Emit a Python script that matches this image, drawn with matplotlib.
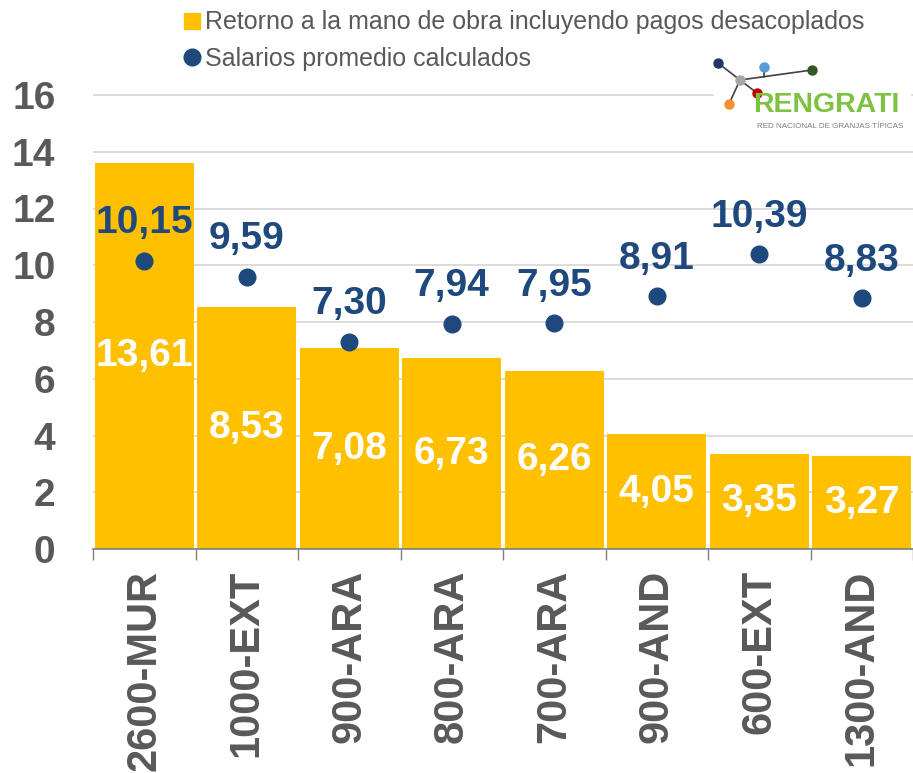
import matplotlib
matplotlib.use("Agg")
import matplotlib.pyplot as plt
import numpy as np
from matplotlib.lines import Line2D
from matplotlib.patches import Rectangle
from matplotlib import font_manager

plt.rcParams['font.family'] = ['Liberation Sans', 'DejaVu Sans']

categories = ["2600-MUR", "1000-EXT", "900-ARA", "800-ARA", "700-ARA", "900-AND", "600-EXT", "1300-AND"]
retorno = [13.61, 8.53, 7.08, 6.73, 6.26, 4.05, 3.35, 3.27]
salarios = [10.15, 9.59, 7.30, 7.94, 7.95, 8.91, 10.39, 8.83]
yticks = [0, 2, 4, 6, 8, 10, 12, 14, 16]

bar_color = '#FFC000'
dot_color = '#1F497D'
gray = '#595959'


def fmt(v):
    return f"{v:.2f}".replace('.', ',')


def main():
    fig = plt.figure(figsize=(9.13, 7.73), dpi=100)
    ax = fig.add_axes([93 / 913, 1 - 549 / 773, 820 / 913, (549 - 93) / 773])

    x = np.arange(len(categories))
    ax.bar(x, retorno, width=0.97, color=bar_color, zorder=2)
    ax.plot(x, salarios, 'o', color=dot_color, markersize=12, zorder=3)

    for xi, v in zip(x, retorno):
        ax.text(xi, v / 2, fmt(v), ha='center', va='center', color='white',
                fontsize=28, fontweight='bold', zorder=4)
    for xi, v in zip(x, salarios):
        ax.annotate(fmt(v), (xi, v), xytext=(0, 27), textcoords='offset points',
                    ha='center', va='center', color=dot_color, fontsize=28,
                    fontweight='bold', zorder=4)

    ax.set_xlim(-0.5, len(categories) - 0.5)
    ax.set_ylim(0, 16 * 456 / 454)
    ax.set_yticks(yticks)
    ax.set_yticklabels([str(t) for t in yticks])
    ax.yaxis.grid(True, color='#D9D9D9', linewidth=1.3, zorder=0)
    ax.set_axisbelow(True)

    ax.set_xticks(x)
    ax.set_xticklabels(categories, rotation=90, va='top', ha='center')
    ax.set_xticks(np.arange(len(categories) + 1) - 0.5, minor=True)
    ax.tick_params(axis='x', which='major', length=0, pad=15, labelsize=30,
                   labelcolor=gray)
    ax.tick_params(axis='x', which='minor', length=8, color='#7F7F7F', width=1)
    ax.tick_params(axis='y', length=0, pad=27, labelsize=28, labelcolor=gray)
    for lab in ax.get_xticklabels() + ax.get_yticklabels():
        lab.set_fontweight('bold')

    for s in ['left', 'right', 'top']:
        ax.spines[s].set_visible(False)
    ax.spines['bottom'].set_color('#7F7F7F')
    ax.spines['bottom'].set_linewidth(1.2)
    ax.spines['bottom'].set_zorder(5)

    # legend
    handles = [
        Line2D([], [], marker='s', linestyle='none', color=bar_color, markersize=11),
        Line2D([], [], marker='o', linestyle='none', color=dot_color, markersize=12),
    ]
    labels = ["Retorno a la mano de obra incluyendo pagos desacoplados",
              "Salarios promedio calculados"]
    fig.legend(handles, labels, loc='upper left', bbox_to_anchor=(164 / 913, 1.006),
               frameon=False, fontsize=18, labelcolor=gray, handletextpad=0.05,
               handlelength=1.0, labelspacing=0.5, borderaxespad=0.2)

    # logo
    W, H = 913, 773

    def fx(px):
        return px / W

    def fy(py):
        return 1 - py / H

    fig.patches.append(Rectangle((fx(714), fy(135)), fx(196), 75 / H,
                                 transform=fig.transFigure, color='white', zorder=3))
    nodes = {
        'navy': ((718, 63), '#1F3864'),
        'gray': ((740, 80), '#A6A6A6'),
        'blue': ((764, 67), '#5B9BD5'),
        'green': ((812, 70), '#375623'),
        'red': ((757, 93), '#C00000'),
        'orange': ((729, 104), '#F4922B'),
    }
    edges = [('navy', 'gray'), ('gray', 'orange'), ('gray', 'red'), ('gray', 'green')]
    for a, b in edges:
        (x1, y1), _ = nodes[a]
        (x2, y2), _ = nodes[b]
        fig.add_artist(Line2D([fx(x1), fx(x2)], [fy(y1), fy(y2)], color='#404040',
                              linewidth=1.2, zorder=4))
    fig.add_artist(Line2D([fx(764), fx(764)], [fy(67), fy(77)], color='#404040',
                          linewidth=1.2, zorder=4))
    for (px, py), c in nodes.values():
        fig.add_artist(Line2D([fx(px)], [fy(py)], marker='o', markersize=6.5,
                              color=c, linestyle='none', zorder=5))

    names = {f.name for f in font_manager.fontManager.ttflist}
    if 'Liberation Sans Narrow' in names:
        logo_font, logo_size = 'Liberation Sans Narrow', 26
    else:
        logo_font, logo_size = 'Liberation Sans', 20.5
    fig.text(fx(753), fy(105), "RENGRATI", color='#7DC242', fontsize=logo_size,
             family=logo_font, fontweight='bold', va='center', ha='left', zorder=6)
    fig.text(fx(757), fy(126), "RED NACIONAL DE GRANJAS TÍPICAS", color='#7F7F7F',
             fontsize=5.8, va='center', ha='left', zorder=6)

    fig.savefig('out.png', dpi=100)


if __name__ == '__main__':
    main()
